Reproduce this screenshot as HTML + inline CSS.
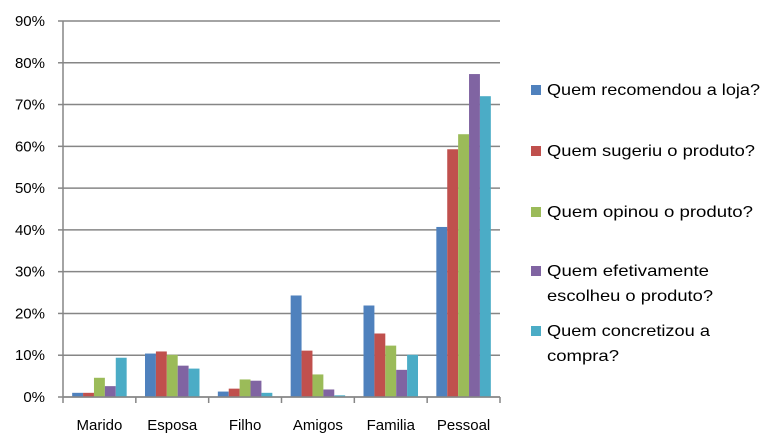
<!DOCTYPE html>
<html><head><meta charset="utf-8"><style>
body{margin:0;background:#fff}
svg{display:block;font-family:"Liberation Sans",sans-serif}
</style></head><body>
<svg id="chart" width="780" height="445" viewBox="0 0 780 445" xmlns="http://www.w3.org/2000/svg">
<rect width="780" height="445" fill="#fff"/>
<g id="grid"></g><g id="bars"></g><g id="axes"></g><g id="legend"></g>
</svg>
<script>
const categories=["Marido","Esposa","Filho","Amigos","Familia","Pessoal"];
const seriesNames=["Quem recomendou a loja?","Quem sugeriu o produto?","Quem opinou o produto?","Quem efetivamente escolheu o produto?","Quem concretizou a compra?"];
const s1=[1.0,10.4,1.3,24.3,21.9,40.7];
const s2=[1.0,10.9,2.0,11.1,15.2,59.3];
const s3=[4.6,10.1,4.2,5.4,12.3,62.9];
const s4=[2.6,7.5,3.9,1.8,6.5,77.3];
const s5=[9.4,6.8,1.0,0.4,10.1,72.0];
const yTicks=[0,10,20,30,40,50,60,70,80,90];
const series=[s1,s2,s3,s4,s5];
const colors=["#4f81bd","#c0504d","#9bbb59","#8064a2","#4bacc6"];
const NS="http://www.w3.org/2000/svg";
const x0=63,x1=500,y0=397,yTop=21,ymax=90;
const y=v=>y0-(v/ymax)*(y0-yTop);
const cw=(x1-x0)/categories.length;
const bw=10.9;
function mk(t,a,p){const e=document.createElementNS(NS,t);for(const k in a)e.setAttribute(k,a[k]);p.appendChild(e);return e;}
const grid=document.getElementById('grid'),axes=document.getElementById('axes'),bars=document.getElementById('bars'),legend=document.getElementById('legend');
yTicks.forEach(t=>{
 const l=mk('line',{x1:x0,x2:x1,y1:y(t),y2:y(t),stroke:'#868686','stroke-width':1.5},grid);
 
 
 const tk=mk('line',{x1:x0-5,x2:x0,y1:y(t),y2:y(t),stroke:'#868686','stroke-width':1.5},axes);
 
 
 const tx=mk('text',{x:45,y:y(t)+5,'text-anchor':'end','font-size':15,fill:'#000'},axes);
 tx.textContent=t+'%';
 
 
});
const ya=mk('line',{x1:x0,x2:x0,y1:yTop,y2:y0,stroke:'#868686','stroke-width':1.5},axes);


for(let i=0;i<=categories.length;i++){
 const tk=mk('line',{x1:x0+i*cw,x2:x0+i*cw,y1:y0,y2:y0+6,stroke:'#868686','stroke-width':1.5},axes);
 
 
}
categories.forEach((c,i)=>{
 const tx=mk('text',{x:x0+(i+0.5)*cw,y:430,'text-anchor':'middle','font-size':15,fill:'#000'},axes);
 tx.textContent=c;
 
 
 series.forEach((s,j)=>{
  const gx=x0+i*cw+(cw-5*bw)/2+j*bw;
  const r=mk('rect',{x:gx,y:y(s[i]),width:bw,height:y0-y(s[i]),fill:colors[j]},bars);
  
  
 });
});
const xa=mk('line',{x1:x0,x2:x1,y1:y0,y2:y0,stroke:'#868686','stroke-width':1.5},axes);


const legLines=[[["Quem recomendou a loja?",213]],[["Quem sugeriu o produto?",208]],[["Quem opinou o produto?",206]],[["Quem efetivamente",162],["escolheu o produto?",166]],[["Quem concretizou a",163],["compra?",72]]];
const legY=[90,151,212,271,331];
legLines.forEach((lines,j)=>{
 const g=mk('g',{},legend);
 
 
 mk('rect',{x:531,y:legY[j]-5,width:10,height:10,fill:colors[j]},g);
 lines.forEach((ln,k)=>{
  const t=mk('text',{x:547,y:legY[j]+5+k*25,'font-size':16,fill:'#000',textLength:ln[1],lengthAdjust:'spacingAndGlyphs'},g);
  t.textContent=ln[0];
 });
});
</script>
</body></html>
